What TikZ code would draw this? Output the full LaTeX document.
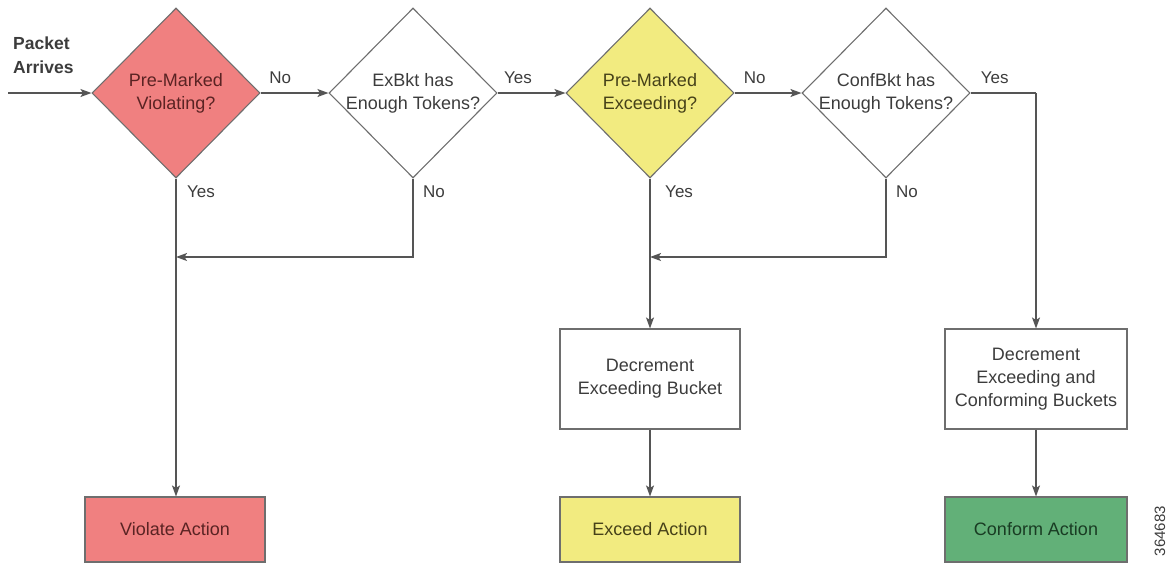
\documentclass[tikz,border=0pt]{standalone}
\usepackage{fontspec}
\setmainfont{Liberation Sans}
\usetikzlibrary{shapes.geometric,arrows.meta}
\definecolor{redfill}{RGB}{240,128,128}
\definecolor{yelfill}{RGB}{242,235,128}
\definecolor{grnfill}{RGB}{98,176,120}
\definecolor{lineg}{RGB}{85,85,85}
\definecolor{edgeg}{RGB}{110,110,110}
\definecolor{txtg}{RGB}{60,60,60}
\definecolor{redtxt}{RGB}{90,35,35}
\definecolor{yeltxt}{RGB}{70,65,25}
\definecolor{grntxt}{RGB}{25,60,35}
\begin{document}
\begin{tikzpicture}[x=1pt,y=-1pt,
  dia/.style={diamond, draw=edgeg, line width=1.1pt, minimum width=168pt, minimum height=170pt, inner sep=0pt},
  dtext/.style={align=center, font=\fontsize{18}{23}\selectfont, text=txtg, inner sep=0pt},
  box/.style={rectangle, draw=edgeg, line width=1.1pt, minimum width=180pt, align=center, inner sep=0pt, font=\fontsize{18}{23}\selectfont, text=txtg},
  arr/.style={draw=lineg, line width=1.3pt, -{Stealth[length=11pt,width=8pt,inset=2.5pt]}},
  conn/.style={draw=lineg, line width=1.3pt},
  lbl/.style={font=\fontsize{17}{20}\selectfont, text=txtg, inner sep=0pt}
]
\useasboundingbox (0,0) rectangle (1175,563);

% diamonds
\node[dia, fill=redfill] (d1) at (176,93) {};
\node[dtext, text=redtxt] (d1t) at (176,93) {Pre-Marked\\Violating?};
\node[dia] (d2) at (413,93) {};
\node[dtext] (d2t) at (413,93) {ExBkt has\\Enough Tokens?};
\node[dia, fill=yelfill] (d3) at (650,93) {};
\node[dtext, text=yeltxt] (d3t) at (650,93) {Pre-Marked\\Exceeding?};
\node[dia] (d4) at (886,93) {};
\node[dtext] (d4t) at (886,93) {ConfBkt has\\Enough Tokens?};

% boxes
\node[box, minimum height=100pt] (b1) at (650,379) {Decrement\\Exceeding Bucket};
\node[box, minimum height=100pt, minimum width=182pt] (b2) at (1036,379) {Decrement\\Exceeding and\\Conforming Buckets};
\node[box, minimum height=65pt, fill=redfill, text=redtxt] (va) at (175,529.5) {Violate Action};
\node[box, minimum height=65pt, fill=yelfill, text=yeltxt] (ea) at (650,529.5) {Exceed Action};
\node[box, minimum height=65pt, minimum width=182pt, fill=grnfill, text=grntxt] (ca) at (1036,529.5) {Conform Action};

% packet arrives
\coordinate (start) at (8,93);
\node[font=\bfseries\fontsize{17.5}{24}\selectfont, text=txtg, align=left, anchor=north west, inner sep=0pt] (pa) at (13,37) {Packet\\Arrives};
\draw[arr] (start) -- (d1.west);

% horizontal chain
\draw[arr] (d1.east) -- node[lbl, pos=0.29, above=9pt] {No} (d2.west);
\draw[arr] (d2.east) -- node[lbl, pos=0.3, above=9pt] {Yes} (d3.west);
\draw[arr] (d3.east) -- node[lbl, pos=0.3, above=9pt] {No} (d4.west);
\coordinate (c4) at (b2.north |- d4.east);
\draw[conn] (d4.east) -- node[lbl, pos=0.37, above=9pt] {Yes} (c4);
\draw[arr] (c4) -- (b2.north);

% verticals
\draw[arr] (d1.south) -- (d1.south |- va.north);
\node[lbl, anchor=west] (y1) at ([xshift=11pt,yshift=-13pt]d1.south) {Yes};
\coordinate (j1) at (d1.south |- 0,257);
\draw[arr] (d2.south) |- (j1);
\node[lbl, anchor=west] (n2) at ([xshift=10pt,yshift=-13pt]d2.south) {No};

\draw[arr] (d3.south) -- (b1.north);
\node[lbl, anchor=west] (y3) at ([xshift=15pt,yshift=-13pt]d3.south) {Yes};
\coordinate (j3) at (d3.south |- 0,257);
\draw[arr] (d4.south) |- (j3);
\node[lbl, anchor=west] (n4) at ([xshift=10pt,yshift=-13pt]d4.south) {No};

\draw[arr] (b1.south) -- (ea.north);
\draw[arr] (b2.south) -- (ca.north);

% figure number
\node[rotate=90, font=\fontsize{15}{17}\selectfont, text=txtg, inner sep=0pt] (fig) at (1160,531) {364683};
\end{tikzpicture}
\end{document}
